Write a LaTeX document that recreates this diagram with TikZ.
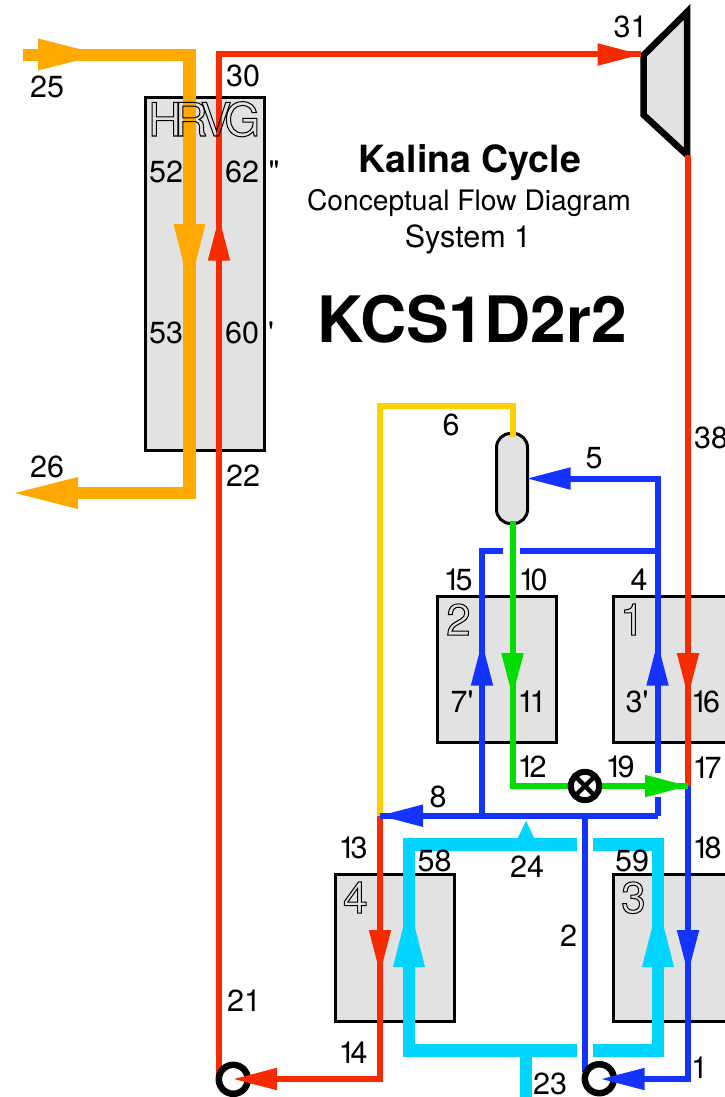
\documentclass[tikz,border=0pt]{standalone}
\usepackage{fontspec}
\setmainfont{TeX Gyre Heros}[Ligatures=TeXOff]
\definecolor{FlowRed}{HTML}{F62B00}
\definecolor{FlowBlue}{HTML}{1433FF}
\definecolor{FlowGreen}{HTML}{00DC00}
\definecolor{FlowCyan}{HTML}{00D4FF}
\definecolor{FlowOrange}{HTML}{FFA800}
\definecolor{FlowYellow}{HTML}{FFD000}
\definecolor{BoxGray}{HTML}{E2E2E2}
\usetikzlibrary{arrows.meta,positioning,calc}
\newcommand{\outlinetext}[1]{\special{pdf:code 1 Tr 1 w}#1\special{pdf:code 0 Tr 1 w}}
\newcommand{\tightone}{1\kern-5pt\relax}
\tikzset{
  exchangerNode/.style={draw=black, fill=BoxGray, line width=3pt, minimum width=118.5pt, inner sep=0pt, outer sep=0pt},
  separatorNode/.style={draw=black, fill=BoxGray, line width=3pt, rounded corners=14pt, minimum width=31pt, minimum height=90pt, inner sep=0pt, outer sep=0pt},
  pumpNode/.style={circle, draw=black, fill=white, line width=6.5pt, minimum size=29pt, inner sep=0pt, outer sep=0pt},
  valveNode/.style={circle, draw=black, fill=white, line width=6pt, minimum size=28.3pt, inner sep=0pt, outer sep=0pt},
  flowLabel/.style={anchor=base, inner sep=0pt, font=\fontsize{30.5}{32}\selectfont},
  outlineLabel/.style={anchor=base west, inner sep=0pt, font=\fontsize{44}{48}\selectfont},
  titleLabel/.style={anchor=base, inner sep=0pt},
  redEdge/.style={draw=FlowRed, line width=6pt},
  blueEdge/.style={draw=FlowBlue, line width=6pt},
  greenEdge/.style={draw=FlowGreen, line width=6pt},
  yellowEdge/.style={draw=FlowYellow, line width=6pt},
  cyanEdge/.style={draw=FlowCyan, line width=12.5pt},
  orangeEdge/.style={draw=FlowOrange, line width=12.5pt},
  smallHead/.style={-{Triangle[length=43pt,width=22.5pt,line width=0pt]}},
  largeHead/.style={-{Triangle[length=63pt,width=32pt,line width=0pt]}}
}
\begin{document}
\begin{tikzpicture}[x=1pt,y=-1pt]
  \path[use as bounding box,clip] (0,0) rectangle (725,1097);

  \node[exchangerNode, minimum height=352.5pt] (HRVG) at (204.75,273.75) {};
  \node[exchangerNode, minimum height=146.5pt] (HX2) at (497.2,669.3) {};
  \node[exchangerNode, minimum height=146.5pt] (HX1) at (673,669.3) {};
  \node[exchangerNode, minimum height=147pt] (HX4) at (394.9,947.5) {};
  \node[exchangerNode, minimum height=147pt] (HX3) at (673,947.5) {};
  \node[separatorNode] (SEP) at (512,478.5) {};
  \draw[draw=black, fill=BoxGray, line width=6.5pt] (643.7,55) -- (687,12) -- (687,155) -- (643.7,115) -- cycle;
  \coordinate (TurbineIn) at (640.7,54.5);
  \coordinate (TurbineOut) at (688,155);

  \coordinate (P25) at (23,55);
  \coordinate (P25c) at (189.5,55);
  \coordinate (P26c) at (189.5,493);
  \coordinate (P26) at (15,493);
  \coordinate (P30c) at (219,54.5);
  \coordinate (P21) at (219,1079);
  \coordinate (P14c) at (380,1079);
  \coordinate (P13) at (380,815.7);
  \coordinate (P6a) at (380,406);
  \coordinate (P6b) at (512.5,406);
  \coordinate (P5c) at (657.5,478.5);
  \coordinate (P4) at (657.5,551);
  \coordinate (P15c) at (482,551);
  \coordinate (P7) at (482,815.7);
  \coordinate (P3top) at (657.5,773);
  \coordinate (P3bot) at (657.5,797);
  \coordinate (P8c) at (657.5,815.7);
  \coordinate (P17) at (688,786);
  \coordinate (P12c) at (512.5,786);
  \coordinate (P1c) at (688,1079);
  \coordinate (P2a) at (585.3,815.7);
  \coordinate (P2b) at (585.3,1072);
  \coordinate (P10l) at (503,551);
  \coordinate (P10r) at (520,551);
  \coordinate (C24) at (526,844.3);
  \coordinate (C23) at (526,1050.3);
  \coordinate (C23b) at (526,1100);

  \draw[redEdge] (TurbineOut) -- (P17);
  \draw[redEdge, miter limit=10] (P21) -- (P30c) -- (TurbineIn);
  \draw[redEdge] (P13) -- (P14c) -- (P21);
  \draw[yellowEdge] (P13) -- (P6a) -- (P6b) -- ($(SEP.north)+(0.5,3)$);
  \draw[blueEdge] (P17) -- (P1c) -- (599,1079);
  \draw[blueEdge] (P3top) -- (P5c) -- ($(SEP.east)+(20,0)$);
  \draw[blueEdge] (P8c) -- (P3bot);
  \draw[blueEdge] (P8c) -- (P13);
  \draw[blueEdge] (P7) -- (P15c) -- (P10l);
  \draw[blueEdge] (P10r) -- (P4);
  \draw[blueEdge] (P2a) -- (P2b);
  \draw[greenEdge] ($(SEP.south)+(0.5,-3)$) -- (P12c) -- (P17);
  \draw[orangeEdge] (P25) -- (P25c) -- (P26c) -- (70,493);
  \draw[cyanEdge] (577,844.3) -- (409,844.3) -- (409,1050.3) -- (577,1050.3);
  \draw[cyanEdge] (593,844.3) -- (658,844.3) -- (658,1050.3) -- (593,1050.3);
  \draw[cyanEdge] (C23) -- (C23b);

  \node[pumpNode] (PumpA) at (233.3,1079.3) {};
  \node[pumpNode] (PumpB) at (599.3,1078.7) {};
  \node[valveNode] (Valve) at (585,786) {};
  \draw[black, line width=4.5pt] (Valve.north west) -- (Valve.south east);
  \draw[black, line width=4.5pt] (Valve.north east) -- (Valve.south west);

  \draw[orangeEdge, largeHead] (38,54.5) -- (101,54.5);
  \draw[orangeEdge, largeHead] (189.5,224) -- (189.5,287);
  \draw[orangeEdge, largeHead] (78,493) -- (P26);
  \draw[redEdge, smallHead] (219,260.7) -- (219,217.7);
  \draw[redEdge, smallHead] (597,54.5) -- (TurbineIn);
  \draw[redEdge, smallHead] (688,653) -- (688,696);
  \draw[redEdge, smallHead] (380,930) -- (380,973);
  \draw[redEdge, smallHead] (278,1079) -- (234,1079);
  \draw[blueEdge, smallHead] (571,478.5) -- (SEP.east);
  \draw[blueEdge, smallHead] (482,685.7) -- (482,642.7);
  \draw[blueEdge, smallHead] (657.5,685.7) -- (657.5,642.7);
  \draw[blueEdge, smallHead] (425.7,815.7) -- (P13);
  \draw[blueEdge, smallHead] (688,930) -- (688,973);
  \draw[blueEdge, smallHead] (644,1079) -- (601.7,1079);
  \draw[greenEdge, smallHead] (512.5,653) -- (512.5,696);
  \draw[greenEdge, smallHead] (641,786) -- (P17);
  \draw[cyanEdge, largeHead] (409,967) -- (409,904);
  \draw[cyanEdge, largeHead] (658,967) -- (658,904);
  \draw[cyanEdge, -{Triangle[length=23.5pt,width=22pt,line width=0pt]}] (C24) -- (526,820.7);

  \node[outlineLabel, font=\fontsize{46}{48}\selectfont] (HRVGname) at (148,136) {\outlinetext{H\kern-7pt R\kern-7pt V\kern-7pt G}};
  \node[outlineLabel] (HX2name) at (446,635) {\outlinetext{2}};
  \node[outlineLabel] (HX1name) at (620,635) {\outlinetext{1}};
  \node[outlineLabel] (HX4name) at (343,913) {\outlinetext{4}};
  \node[outlineLabel] (HX3name) at (621,913) {\outlinetext{3}};

  \node[titleLabel, font=\fontsize{37.5}{40}\selectfont\bfseries] (TitleA) at (470,172.5) {Kalina Cycle};
  \node[titleLabel, font=\fontsize{28.2}{30}\selectfont] (TitleB) at (469,210) {Conceptual Flow Diagram};
  \node[titleLabel, font=\fontsize{30.5}{32}\selectfont] (TitleC) at (468,247.5) {System 1};
  \node[titleLabel, font=\fontsize{64}{66}\selectfont\bfseries] (TitleD) at (472,342.5) {KCS1D2r2};

  \node[flowLabel] (L25) at (47,98) {25};
  \node[flowLabel] (L30) at (243,87) {30};
  \node[flowLabel] (L31) at (630.5,38) {31};
  \node[flowLabel] (L52) at (166,182) {52};
  \node[flowLabel] (L62) at (242,182) {62};
  \node[flowLabel] (L62q) at (274,182) {"};
  \node[flowLabel] (L53) at (166,343) {53};
  \node[flowLabel] (L60) at (242,343) {60};
  \node[flowLabel] (L60q) at (271,343) {'};
  \node[flowLabel] (L26) at (47,477) {26};
  \node[flowLabel] (L22) at (243,486) {22};
  \node[flowLabel] (L6) at (451,435) {6};
  \node[flowLabel] (L5) at (594,468) {5};
  \node[flowLabel, anchor=base west] (L38) at (694,448) {38};
  \node[flowLabel] (L15) at (458,590) {\tightone 5};
  \node[flowLabel] (L10) at (533,590) {\tightone 0};
  \node[flowLabel] (L4) at (639,590) {4};
  \node[flowLabel] (L7) at (462,712) {7'};
  \node[flowLabel] (L11) at (532,712) {\tightone 1};
  \node[flowLabel] (L3) at (637,712) {3'};
  \node[flowLabel] (L16) at (705.5,712) {\tightone 6};
  \node[flowLabel] (L12) at (532,777) {\tightone 2};
  \node[flowLabel] (L19) at (620,777) {\tightone 9};
  \node[flowLabel] (L17) at (707,778) {\tightone 7};
  \node[flowLabel] (L8) at (438,807) {8};
  \node[flowLabel] (L13) at (353,858) {\tightone 3};
  \node[flowLabel] (L58) at (434.5,871) {58};
  \node[flowLabel] (L24) at (527,877) {24};
  \node[flowLabel] (L59) at (632,871) {59};
  \node[flowLabel] (L18) at (707,858) {\tightone 8};
  \node[flowLabel] (L2) at (568.5,946) {2};
  \node[flowLabel] (L21) at (244,1011) {21};
  \node[flowLabel] (L14) at (353,1063) {\tightone 4};
  \node[flowLabel] (L23) at (550,1094) {23};
  \node[flowLabel] (L1) at (699.5,1078) {1};
\end{tikzpicture}
\end{document}
